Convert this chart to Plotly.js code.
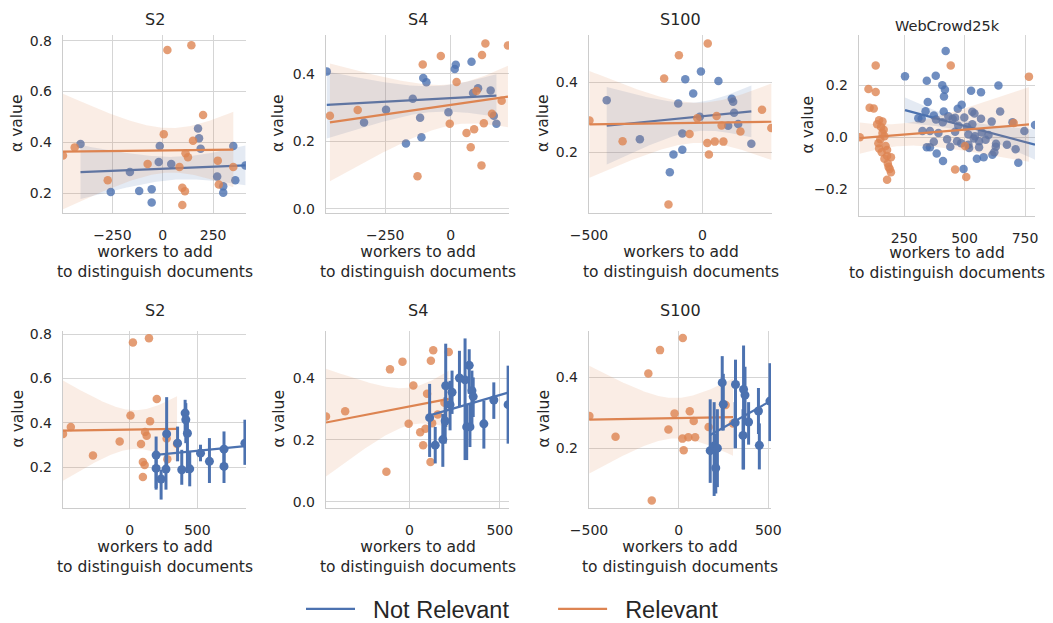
<!DOCTYPE html>
<html><head><meta charset="utf-8">
<script src="https://cdn.plot.ly/plotly-3.0.1.min.js"></script>
<style>html,body{margin:0;padding:0;background:#fff}#chart{width:1053px;height:623px}</style>
</head><body><div id="chart"></div>
<script>
// ---------------- DATA ----------------
const seriesNames = ['Not Relevant', 'Relevant'];
const panelTitles = ['S2', 'S4', 'S100', 'WebCrowd25k', 'S2', 'S4', 'S100'];
const xTitle = 'workers to add<br>to distinguish documents';
const yTitle = 'α value';

// S2 (top)
const s2NotRelX = [-408,-258,-163,-117,-55,-55,-15,-20,42,175,180,188,270,300,300,350,360,410];
const s2NotRelY = [0.394,0.206,0.284,0.21,0.217,0.165,0.386,0.324,0.316,0.455,0.417,0.376,0.267,0.228,0.203,0.386,0.252,0.31];
const s2RelX = [-495,-437,-273,-75,5,23,142,150,200,113,125,83,97,110,97,273,278,350];
const s2RelY = [0.349,0.381,0.252,0.316,0.433,0.763,0.782,0.407,0.508,0.358,0.342,0.304,0.223,0.209,0.155,0.329,0.235,0.304];

// S4 (top)
const s4NotRelX = [-473,-331,-247,-171,-145,-117,-112,-105,-93,-9,15,19,79,85,104,152,164,174];
const s4NotRelY = [0.407,0.256,0.294,0.194,0.326,0.27,0.212,0.388,0.375,0.286,0.414,0.427,0.436,0.343,0.357,0.351,0.276,0.252];
const s4RelX = [-461,-355,-127,-107,-38,-4,22,60,76,89,98,117,119,126,132,157,194,218];
const s4RelY = [0.276,0.293,0.097,0.428,0.453,0.252,0.376,0.225,0.183,0.236,0.349,0.129,0.456,0.254,0.49,0.282,0.32,0.484];

// S100 (top)
const s100NotRelX = [-422,-276,-144,-128,-107,-89,-89,-76,-41,-12,-7,70,113,129,135,139,157,215];
const s100NotRelY = [0.349,0.238,0.144,0.194,0.34,0.254,0.208,0.409,0.368,0.302,0.431,0.404,0.276,0.353,0.345,0.313,0.281,0.225];
const s100RelX = [-498,-352,-169,-150,-104,-57,-23,21,23,28,54,62,84,92,167,262,303];
const s100RelY = [0.291,0.232,0.411,0.052,0.477,0.253,0.298,0.227,0.511,0.194,0.231,0.304,0.277,0.231,0.26,0.322,0.27];

// WebCrowd25k
const wcNotRelX = [422,254,381,344,408,419,415,527,568,640,348,488,472,532,414,339,647,309,323,373,382,433,451,461,499,541,568,410,474,510,532,612,698,791,326,357,392,461,516,543,571,599,747,538,373,428,469,486,516,560,587,630,675,357,344,441,519,560,629,711,385,551,579,615,623,411,722,496];
const wcNotRelY = [0.333,0.235,0.237,0.218,0.201,0.183,0.157,0.179,0.174,0.2,0.136,0.125,0.11,0.098,0.099,0.1,0.099,0.073,0.071,0.084,0.068,0.081,0.071,0.075,0.076,0.091,0.071,0.058,0.044,0.039,0.05,0.06,0.058,0.047,0.024,0.024,0.016,0.021,0.01,0.003,0.018,0.008,0.024,-0.005,-0.018,-0.008,-0.016,-0.024,-0.029,-0.016,-0.01,-0.026,-0.029,-0.039,-0.039,-0.037,-0.042,-0.039,-0.037,-0.047,-0.063,-0.084,-0.078,-0.068,-0.058,-0.092,-0.099,-0.123];
const wcRelX = [133,443,766,103,133,108,125,147,161,139,155,166,161,169,67,152,174,147,158,180,196,169,183,191,196,180,703,502,461,507,144,186,180];
const wcRelY = [0.277,0.277,0.234,0.186,0.175,0.114,0.111,0.065,0.06,0.05,0.039,0.029,0.016,0.003,0.0,-0.008,-0.034,-0.044,-0.058,-0.073,-0.078,-0.084,-0.102,-0.123,-0.136,-0.165,0.055,-0.034,-0.125,-0.154,-0.024,-0.115,-0.05];

// Bottom row: Not Relevant as binned means with CI (lo/hi)
const b2NotRelX  = [195,195,232,273,268,354,385,410,415,427,444,524,590,698,698,853];
const b2NotRelY  = [0.254,0.194,0.146,0.35,0.191,0.308,0.188,0.444,0.414,0.353,0.192,0.263,0.226,0.281,0.203,0.308];
const b2NotRelLo = [0.098,0.105,0.053,0.188,0.098,0.226,0.12,0.338,0.308,0.173,0.113,0.226,0.128,0.188,0.128,0.21];
const b2NotRelHi = [0.338,0.271,0.188,0.516,0.263,0.383,0.278,0.504,0.489,0.429,0.271,0.301,0.331,0.361,0.278,0.414];

const b4NotRelX  = [112,143,185,201,198,225,236,277,308,317,331,335,346,353,412,467,546];
const b4NotRelY  = [0.272,0.183,0.201,0.375,0.261,0.314,0.354,0.4,0.394,0.242,0.441,0.242,0.359,0.34,0.252,0.329,0.314];
const b4NotRelLo = [0.145,0.124,0.113,0.242,0.188,0.231,0.284,0.306,0.135,0.135,0.349,0.177,0.242,0.274,0.172,0.268,0.188];
const b4NotRelHi = [0.381,0.242,0.284,0.511,0.338,0.391,0.424,0.488,0.528,0.317,0.493,0.317,0.424,0.402,0.327,0.386,0.44];

const b100NotRelX  = [176,198,207,216,243,249,317,315,362,370,359,390,445,450,509];
const b100NotRelY  = [0.193,0.206,0.144,0.2,0.385,0.324,0.38,0.272,0.366,0.35,0.236,0.274,0.305,0.208,0.333];
const b100NotRelLo = [0.102,0.065,0.072,0.09,0.25,0.25,0.2,0.2,0.14,0.27,0.14,0.21,0.24,0.14,0.22];
const b100NotRelHi = [0.338,0.33,0.24,0.31,0.46,0.41,0.45,0.33,0.49,0.43,0.31,0.33,0.37,0.27,0.44];

// ---------------- STYLE / LAYOUT ----------------
const W = 1053, H = 623;
const BLUE = '#4C72B0', ORANGE = '#DD8452';
const BLUE_BAND = 'rgba(76,114,176,0.15)', ORANGE_BAND = 'rgba(221,132,82,0.15)';
const FONT = 'DejaVu Sans, Arial, sans-serif';
const TXT = '#262626';
const px = v => v / W, py = v => 1 - v / H;

// panel boxes in pixels: [left, right, top, bottom], axis ranges, tick steps
const panels = [
  {box:[63,246,35,213],  xr:[-495,413], yr:[0.1235,0.822], dx:250},
  {box:[326,509,35,213], xr:[-476,222], yr:[-0.012,0.515], dx:250},
  {box:[589,772,35,213], xr:[-500,306], yr:[0.0275,0.535], dx:500},
  {box:[859,1035,35,216],xr:[64,791],   yr:[-0.305,0.395], dx:250},
  {box:[63,246,331,508], xr:[-495,861], yr:[0.015,0.815],  dx:500},
  {box:[326,509,331,508],xr:[-461,551], yr:[-0.02,0.552],  dx:500},
  {box:[589,771,331,508],xr:[-500,515], yr:[0.031,0.531],  dx:500}
];
const yTitleX = [17, 278, 543, 807, 17, 278, 543];

// ---------------- REGRESSION ----------------
function tq(df){ return 1.96 + 2.37/df + 2.8/(df*df); }
function fit(xs, ys){
  const n = xs.length;
  const mx = xs.reduce((a,b)=>a+b,0)/n, my = ys.reduce((a,b)=>a+b,0)/n;
  let sxx=0, sxy=0;
  for(let i=0;i<n;i++){ sxx += (xs[i]-mx)*(xs[i]-mx); sxy += (xs[i]-mx)*(ys[i]-my); }
  const b = sxy/sxx, a = my - b*mx;
  let sse = 0;
  for(let i=0;i<n;i++){ const r = ys[i]-(a+b*xs[i]); sse += r*r; }
  const s = Math.sqrt(sse/(n-2)), t = tq(n-2);
  const x0 = Math.min(...xs), x1 = Math.max(...xs);
  const gx=[], gy=[], lo=[], hi=[];
  for(let k=0;k<=100;k++){
    const x = x0 + (x1-x0)*k/100, yh = a + b*x;
    const se = s*Math.sqrt(1/n + (x-mx)*(x-mx)/sxx);
    gx.push(x); gy.push(yh); lo.push(yh - t*se); hi.push(yh + t*se);
  }
  return {gx, gy, lo, hi};
}

const traces = [];
function axNames(i){ const s = i===0 ? '' : String(i+1); return {xa:'x'+s, ya:'y'+s}; }
const NB = '\u00A0';
const legendLabels = [NB+NB+seriesNames[0]+NB.repeat(6), NB+NB+seriesNames[1]];

function addFit(i, xs, ys, color, band, name, showLeg, withBand, legLabel){
  const {xa, ya} = axNames(i);
  const f = fit(xs, ys);
  traces.push({x:f.gx, y:f.gy, xaxis:xa, yaxis:ya, mode:'lines', type:'scatter',
    line:{color:color, width:2.2}, name:legLabel || name, showlegend:showLeg, legendgroup:name, hoverinfo:'skip'});
  if(withBand){
    traces.push({x:f.gx.concat(f.gx.slice().reverse()), y:f.lo.concat(f.hi.slice().reverse()),
      xaxis:xa, yaxis:ya, mode:'lines', type:'scatter', fill:'toself', fillcolor:band,
      line:{width:0, color:band}, showlegend:false, hoverinfo:'skip'});
  }
}
function addScatter(i, xs, ys, color){
  const {xa, ya} = axNames(i);
  traces.push({x:xs, y:ys, xaxis:xa, yaxis:ya, mode:'markers', type:'scatter',
    marker:{color:color, size:8.5, opacity:0.8, line:{width:0}}, showlegend:false, hoverinfo:'skip'});
}
function addMeans(i, xs, ys, lo, hi, color){
  const {xa, ya} = axNames(i);
  traces.push({x:xs, y:ys, xaxis:xa, yaxis:ya, mode:'markers', type:'scatter',
    marker:{color:color, size:9},
    error_y:{type:'data', symmetric:false, array:hi.map((h,k)=>h-ys[k]), arrayminus:ys.map((y,k)=>y-lo[k]),
      color:color, thickness:3, width:0},
    showlegend:false, hoverinfo:'skip'});
}

// top row: Not Relevant then Relevant
const topData = [
  [s2NotRelX, s2NotRelY, s2RelX, s2RelY],
  [s4NotRelX, s4NotRelY, s4RelX, s4RelY],
  [s100NotRelX, s100NotRelY, s100RelX, s100RelY],
  [wcNotRelX, wcNotRelY, wcRelX, wcRelY]
];
topData.forEach((d, i) => {
  addScatter(i, d[0], d[1], BLUE);
  addFit(i, d[0], d[1], BLUE, BLUE_BAND, seriesNames[0], i===0, true, legendLabels[0]);
  addScatter(i, d[2], d[3], ORANGE);
  addFit(i, d[2], d[3], ORANGE, ORANGE_BAND, seriesNames[1], i===0, true, legendLabels[1]);
});
// bottom row: Relevant (raw) then Not Relevant (means)
const bottomData = [
  [s2RelX, s2RelY, b2NotRelX, b2NotRelY, b2NotRelLo, b2NotRelHi],
  [s4RelX, s4RelY, b4NotRelX, b4NotRelY, b4NotRelLo, b4NotRelHi],
  [s100RelX, s100RelY, b100NotRelX, b100NotRelY, b100NotRelLo, b100NotRelHi]
];
bottomData.forEach((d, j) => {
  const i = 4 + j;
  addScatter(i, d[0], d[1], ORANGE);
  addFit(i, d[0], d[1], ORANGE, ORANGE_BAND, seriesNames[1], false, true);
  addMeans(i, d[2], d[3], d[4], d[5], BLUE);
  addFit(i, d[2], d[3], BLUE, BLUE_BAND, seriesNames[0], false, false);
});

const layout = {
  width: W, height: H, margin:{l:0, r:0, t:0, b:0, autoexpand:false},
  paper_bgcolor:'#fff', plot_bgcolor:'#fff',
  font:{family:FONT, color:TXT},
  showlegend:true,
  legend:{orientation:'h', xref:'container', yref:'container', x:px(301), xanchor:'left', y:py(609), yanchor:'middle',
    font:{family:'Liberation Sans, Arial, sans-serif', size:23.5, color:TXT}, itemwidth:49, bgcolor:'rgba(0,0,0,0)'},
  annotations: []
};
const axBase = {showgrid:true, gridcolor:'#d5d5d5', gridwidth:1, showline:true, linecolor:'#cccccc', linewidth:1.2,
  zeroline:false, ticks:'', tickfont:{family:FONT, size:14, color:TXT}, fixedrange:true, automargin:false};

panels.forEach((p, i) => {
  const s = i===0 ? '' : String(i+1);
  const [l, r, t, b] = p.box;
  layout['xaxis'+s] = Object.assign({}, axBase, {domain:[px(l), px(r)], range:p.xr, dtick:p.dx, tick0:0,
    anchor:'y'+s, ticklabelstandoff:9});
  layout['yaxis'+s] = Object.assign({}, axBase, {domain:[py(b), py(t)], range:p.yr, dtick:0.2, tick0:0,
    tickformat:'.1f', anchor:'x'+s, ticklabelstandoff:7});
  const cx = px((l+r)/2);
  const isWc = panelTitles[i] === 'WebCrowd25k';
  layout.annotations.push({text:panelTitles[i], xref:'paper', yref:'paper', x:cx, y:py(i<4 ? (isWc?26:19.3) : 310.5),
    xanchor:'center', yanchor:'middle', showarrow:false, font:{family:FONT, size:isWc?14.5:16, color:TXT}});
  layout.annotations.push({text:xTitle, xref:'paper', yref:'paper', x:cx, y:py(b + (i<4 ? (isWc ? 47 : 48.7) : 49.2)),
    xanchor:'center', yanchor:'middle', showarrow:false, font:{family:FONT, size:15.5, color:TXT}});
  layout.annotations.push({text:yTitle, xref:'paper', yref:'paper', x:px(yTitleX[i]), y:py((t+b)/2),
    xanchor:'center', yanchor:'middle', textangle:-90, showarrow:false, font:{family:FONT, size:15.5, color:TXT}});
});

Plotly.newPlot('chart', traces, layout, {staticPlot:true, displayModeBar:false});
</script></body></html>
